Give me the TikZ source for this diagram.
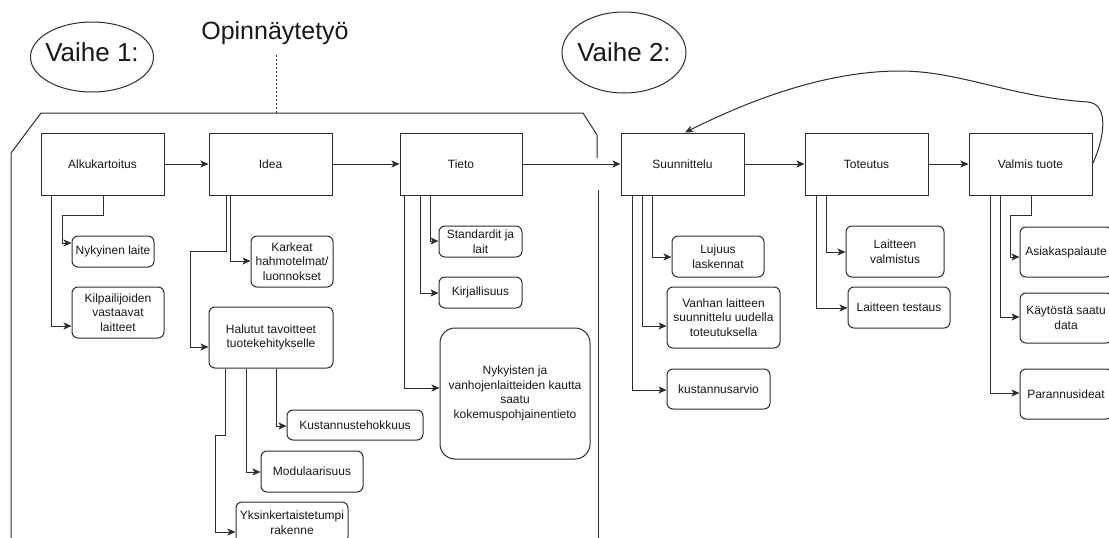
\documentclass[tikz,border=0pt]{standalone}
\usepackage{fontspec}
\setmainfont{Liberation Sans}
\usetikzlibrary{shapes.geometric,arrows.meta}
\definecolor{lc}{RGB}{45,45,45}
\definecolor{tc}{RGB}{25,25,25}
\begin{document}
\begin{tikzpicture}[x=1pt,y=-1pt,line width=1pt,
  every node/.style={font=\fontsize{12}{14.5}\selectfont,text=tc},
  mainbox/.style={draw=lc,minimum width=123pt,minimum height=62pt,inner sep=1pt},
  subbox/.style={draw=lc,rounded corners=6pt,inner sep=1pt,align=center},
  arr/.style={draw=lc,-{Stealth[length=8pt,width=7pt,inset=2pt]}},
  bigtxt/.style={font=\fontsize{26}{31}\selectfont},
  vellipse/.style={draw=lc,ellipse,inner sep=0pt}]
\useasboundingbox (0,0) rectangle (1109,538);
\fill[white] (0,0) rectangle (1109,538);
\clip (0,0) rectangle (1109,538);

% headings
\node[vellipse,minimum width=123pt,minimum height=70pt,
  label={[bigtxt,yshift=5pt]center:{Vaihe 1:}}] (v1) at (92,57) {};
\node[vellipse,minimum width=124pt,minimum height=81pt,
  label={[bigtxt]center:{Vaihe 2:}}] (v2) at (624,52.5) {};
\node[font=\fontsize{25}{30}\selectfont] (opin) at (275,33) {Opinnäytetyö};
\coordinate (dtop) at (276,55);
\coordinate (dbot) at (276,113);
\draw[lc,dash pattern=on 2pt off 2pt] (dtop) -- (dbot);

% container
\draw[lc] (11,545) -- (11,153) -- (41,113) -- (583,113) -- (597,135) -- (597,158);
\draw[lc] (598,190) -- (598,545);

% main boxes
\node[mainbox] (alku) at (102.5,164) {Alkukartoitus};
\node[mainbox] (idea) at (270.5,164) {Idea};
\node[mainbox,minimum width=122pt] (tieto) at (461,164) {Tieto};
\node[mainbox] (suun) at (682.5,164) {Suunnittelu};
\node[mainbox] (tot) at (866.5,164) {Toteutus};
\node[mainbox] (valmis) at (1030.5,164) {Valmis tuote};

\draw[arr] (alku.east) -- (idea.west);
\draw[arr] (idea.east) -- (tieto.west);
\draw[arr] (tieto.east) -- (suun.west);
\draw[arr] (suun.east) -- (tot.west);
\draw[arr] (tot.east) -- (valmis.west);

% feedback curve
\draw[arr] (valmis.east) .. controls (1104,140) and (1110,104) .. (1088,102)
  .. controls (1010,97) and (960,71) .. (900,71)
  .. controls (820,71) and (740,105) .. (suun.north -| 685,0);

% sub boxes
\node[subbox,minimum width=82pt,minimum height=31pt] (nyk) at (113,251.5) {Nykyinen laite};
\node[subbox,minimum width=92pt,minimum height=51pt] (kilp) at (118,312.5) {Kilpailijoiden\\vastaavat\\laitteet};
\node[subbox,minimum width=82pt,minimum height=51pt] (kark) at (292,261.5) {Karkeat\\hahmotelmat/\\luonnokset};
\node[subbox,minimum width=124pt,minimum height=61pt] (hal) at (271,337.5) {Halutut tavoitteet\\tuotekehitykselle};
\node[subbox,minimum width=136pt,minimum height=30pt] (kust) at (355,425) {Kustannustehokkuus};
\node[subbox,minimum width=102pt,minimum height=41pt] (mod) at (312,471.5) {Modulaarisuus};
\node[subbox,minimum width=112pt,minimum height=41pt] (yks) at (292,522.5) {Yksinkertaistetumpi\\rakenne};
\node[subbox,minimum width=83pt,minimum height=31pt] (stand) at (480.5,241.5) {Standardit ja\\lait};
\node[subbox,minimum width=83pt,minimum height=31pt] (kirj) at (480.5,292.5) {Kirjallisuus};
\node[subbox,rounded corners=15pt,minimum width=150pt,minimum height=131pt] (nykyi) at (515,393.5) {Nykyisten ja\\vanhojenlaitteiden kautta\\saatu\\kokemuspohjainentieto};
\node[subbox,minimum width=92pt,minimum height=41pt] (luj) at (718,256.5) {Lujuus\\laskennat};
\node[subbox,minimum width=113pt,minimum height=61pt] (van) at (723.5,317.5) {Vanhan laitteen\\suunnittelu uudella\\toteutuksella};
\node[subbox,minimum width=103pt,minimum height=40pt] (karv) at (718.5,389) {kustannusarvio};
\node[subbox,minimum width=98pt,minimum height=51pt] (lval) at (895,251.5) {Laitteen\\valmistus};
\node[subbox,minimum width=102pt,minimum height=41pt] (ltest) at (899,307.5) {Laitteen testaus};
\node[subbox,minimum width=92pt,minimum height=50pt] (asia) at (1066,252) {Asiakaspalaute};
\node[subbox,minimum width=92pt,minimum height=50pt] (kayt) at (1066,318) {Käytöstä saatu\\data};
\node[subbox,minimum width=92pt,minimum height=50pt] (paran) at (1066,394) {Parannusideat};

% sub connectors
\draw[arr] (alku.south -| 51,0) |- (kilp.west |- 0,326);
\draw[arr] (alku.south -| 103,0) -- (103,215) -| (62,243) -- (nyk.west |- 0,243);
\draw[arr] (idea.south -| 230,0) |- (kark.west |- 0,261);
\draw[arr] (idea.south -| 226,0) -- (226,251) -| (190,347) -- (hal.west |- 0,347);
\draw[arr] (hal.south -| 276,0) |- (kust.west |- 0,426);
\draw[arr] (hal.south -| 246,0) |- (mod.west |- 0,472);
\draw[arr] (hal.south -| 225,0) -- (225,435) -| (215,532) -- (yks.west |- 0,532);
\draw[arr] (tieto.south -| 430,0) |- (stand.west |- 0,241);
\draw[arr] (tieto.south -| 420,0) |- (kirj.west |- 0,293);
\draw[arr] (tieto.south -| 404,0) |- (nykyi.west |- 0,388);
\draw[arr] (suun.south -| 652,0) |- (luj.west |- 0,257);
\draw[arr] (suun.south -| 642,0) |- (van.west |- 0,326);
\draw[arr] (suun.south -| 632,0) |- (karv.west |- 0,390);
\draw[arr] (tot.south -| 826,0) |- (lval.west |- 0,252);
\draw[arr] (tot.south -| 816,0) |- (ltest.west |- 0,308);
\draw[arr] (valmis.south -| 1031,0) -- (1031,215) -| (1010,257) -- (asia.west |- 0,257);
\draw[arr] (valmis.south -| 1000,0) |- (kayt.west |- 0,317);
\draw[arr] (valmis.south -| 990,0) |- (paran.west |- 0,393);
\end{tikzpicture}
\end{document}
